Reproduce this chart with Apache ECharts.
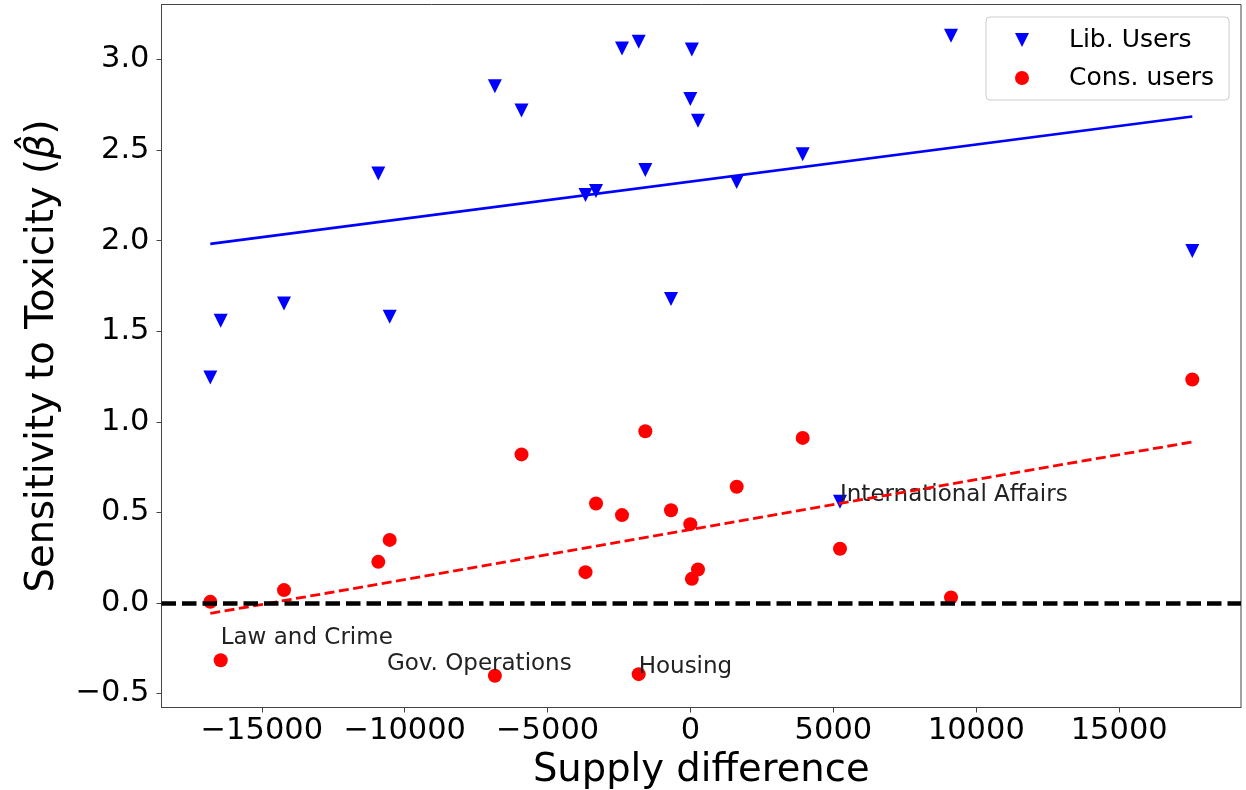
<!DOCTYPE html>
<html>
<head>
<meta charset="utf-8">
<script src="https://cdn.jsdelivr.net/npm/echarts@6/dist/echarts.min.js"></script>
<style>
    html, body { margin: 0; padding: 0; background: #fff; }
    #chart { width: 1246px; height: 790px; }
</style>
</head>
<body>
<div id="chart"></div>
<script>
    // supply difference per topic (shared x for both user groups)
    const supplyDiff = [-16802, -16438, -14223, -10924, -10525, -6845, -5913, -3674, -3306, -2397,
        -1813, -1581, -682, -7, 47, 262, 1616, 3925, 5231, 9115, 17558];
    // sensitivity of liberal users
    const libBeta = [1.244, 1.557, 1.653, 2.370, 1.579, 2.852, 2.718, 2.251, 2.273, 3.060,
        3.097, 2.389, 1.677, 2.782, 3.055, 2.661, 2.324, 2.477, 0.558, 3.130, 1.943];
    // sensitivity of conservative users
    const consBeta = [0.006, -0.316, 0.071, 0.227, 0.348, -0.402, 0.820, 0.170, 0.549, 0.485,
        -0.393, 0.948, 0.512, 0.435, 0.133, 0.185, 0.641, 0.911, 0.299, 0.030, 1.233];
    // fitted lines, read at both ends
    const fitX = [-16802, 17558];
    const libFit = [1.982, 2.685];
    const consFit = [-0.058, 0.889];
    // annotated topics (index into arrays above)
    const libNotes = {18: 'International Affairs'};
    const consNotes = {1: 'Law and Crime', 5: 'Gov. Operations', 10: 'Housing'};
    // tick labels
    const xTicks = [-15000, -10000, -5000, 0, 5000, 10000, 15000];
    const yTicks = [-0.5, 0.0, 0.5, 1.0, 1.5, 2.0, 2.5, 3.0];

    const font = 'DejaVu Sans';
    const axisColor = '#444';
    // label offsets for the annotations (px)
    const noteOffset = {
        'International Affairs': [0, -7],
        'Law and Crime': [0, -22],
        'Gov. Operations': [-108, -12],
        'Housing': [0, -7]
    };
    const downTri = 'path://M0,0 L2,0 L1,2 Z';

    function minus(s) {
        return String(s).replace('-', '\u2212');
    }

    function buildPoints(ys, notes) {
        return supplyDiff.map(function (x, i) {
            let item = {value: [x, ys[i]]};
            if (notes[i]) {
                item.label = {
                    show: true,
                    formatter: notes[i],
                    position: 'inside',
                    align: 'left',
                    verticalAlign: 'middle',
                    offset: noteOffset[notes[i]],
                    color: '#222',
                    fontFamily: font,
                    fontSize: 23
                };
            }
            return item;
        });
    }

    let chart = echarts.init(document.getElementById('chart'));

    let option = {
        animation: false,
        grid: {
            left: 161.5, right: 5, top: 4.5, bottom: 82.5,
            show: true, borderColor: axisColor, borderWidth: 1,
            containLabel: false,
            outerBoundsMode: 'none'
        },
        legend: {
            orient: 'vertical',
            left: 986, top: 17,
            padding: [9, 15, 8, 29],
            itemGap: 10,
            itemWidth: 14, itemHeight: 14,
            borderColor: '#ccc', borderWidth: 1, borderRadius: 4,
            backgroundColor: 'rgba(255,255,255,0.8)',
            textStyle: {fontFamily: font, fontSize: 25, color: '#000', lineHeight: 28, padding: [0, 0, 0, 35]},
            data: ['Lib. Users', 'Cons. users']
        },
        xAxis: {
            type: 'value',
            min: -18510, max: 19262,
            name: 'Supply difference',
            nameLocation: 'middle',
            nameGap: 42,
            nameTextStyle: {fontFamily: font, fontSize: 38.5, color: '#000'},
            splitLine: {show: false},
            axisLine: {show: true, onZero: false, lineStyle: {color: axisColor}},
            axisTick: {show: true, length: 5, customValues: xTicks, lineStyle: {color: axisColor}},
            axisLabel: {
                customValues: xTicks, margin: 8,
                fontFamily: font, fontSize: 30.5, color: '#000',
                formatter: function (v) { return minus(v); }
            }
        },
        yAxis: {
            type: 'value',
            min: -0.577, max: 3.303,
            name: '{n|Sensitivity to Toxicity (}{b|\u03b2\u0302}{n|)}',
            nameLocation: 'middle',
            nameGap: 99.5,
            nameTextStyle: {
                fontFamily: font, fontSize: 38.5, color: '#000',
                rich: {
                    n: {fontFamily: font, fontSize: 38.5, color: '#000'},
                    b: {fontFamily: font, fontSize: 38.5, color: '#000', fontStyle: 'italic'}
                }
            },
            splitLine: {show: false},
            axisLine: {show: true, onZero: false, lineStyle: {color: axisColor}},
            axisTick: {show: true, length: 5, customValues: yTicks, lineStyle: {color: axisColor}},
            axisLabel: {
                customValues: yTicks, margin: 12,
                padding: [5, 0, 0, 0],
                fontFamily: font, fontSize: 30.5, color: '#000',
                formatter: function (v) { return minus(v.toFixed(1)); }
            }
        },
        series: [
            {
                name: 'fit-lib',
                type: 'line',
                data: fitX.map(function (x, i) { return [x, libFit[i]]; }),
                symbol: 'none',
                lineStyle: {color: '#0000ff', width: 2.7},
                z: 2
            },
            {
                name: 'fit-cons',
                type: 'line',
                data: fitX.map(function (x, i) { return [x, consFit[i]]; }),
                symbol: 'none',
                lineStyle: {color: '#ff0000', width: 2.8, type: [10, 4.5]},
                z: 4,
                markLine: {
                    silent: true,
                    symbol: 'none',
                    label: {show: false},
                    lineStyle: {color: '#000', width: 4.5, type: [14.5, 6]},
                    data: [{yAxis: 0}]
                }
            },
            {
                name: 'Lib. Users',
                type: 'scatter',
                symbol: downTri,
                symbolSize: 14,
                itemStyle: {color: '#0000ff', opacity: 1},
                data: buildPoints(libBeta, libNotes),
                z: 3
            },
            {
                name: 'Cons. users',
                type: 'scatter',
                symbol: 'circle',
                symbolSize: 14,
                itemStyle: {color: '#ff0000', opacity: 1},
                data: buildPoints(consBeta, consNotes),
                z: 3
            }
        ]
    };

    chart.setOption(option);
</script>
</body>
</html>
